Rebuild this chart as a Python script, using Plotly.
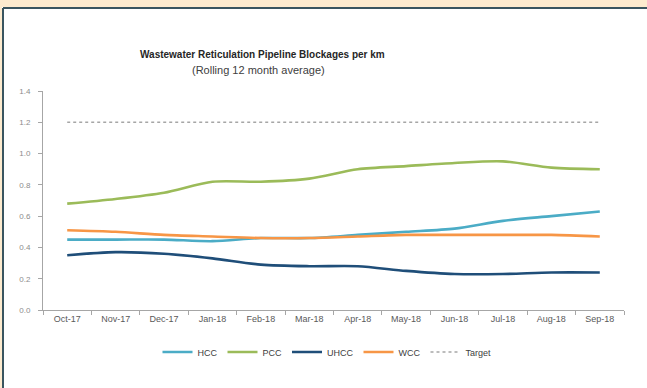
import plotly.graph_objects as go

months = ["Oct-17", "Nov-17", "Dec-17", "Jan-18", "Feb-18", "Mar-18",
          "Apr-18", "May-18", "Jun-18", "Jul-18", "Aug-18", "Sep-18"]
hcc = [0.45, 0.45, 0.45, 0.44, 0.46, 0.46, 0.48, 0.50, 0.52, 0.57, 0.60, 0.63]
pcc = [0.68, 0.71, 0.75, 0.82, 0.82, 0.84, 0.90, 0.92, 0.94, 0.95, 0.91, 0.90]
uhcc = [0.35, 0.37, 0.36, 0.33, 0.29, 0.28, 0.28, 0.25, 0.23, 0.23, 0.24, 0.24]
wcc = [0.51, 0.50, 0.48, 0.47, 0.46, 0.46, 0.47, 0.48, 0.48, 0.48, 0.48, 0.47]
target = [1.2] * 12

W, H = 647, 388
L, R, T, B = 43, 23, 91, 78
pw, ph = W - L - R, H - T - B

def px_x(px):
    return (px - L) / pw

def px_y(py):
    return (H - B - py) / ph

font = "Liberation Sans Narrow, Liberation Sans, Arial"

fig = go.Figure()
series = [("HCC", hcc, "#4BACC6", None, 2.6),
          ("PCC", pcc, "#9BBB59", None, 2.6),
          ("UHCC", uhcc, "#1F4E79", None, 2.6),
          ("WCC", wcc, "#F79646", None, 2.6),
          ("Target", target, "#A6A6A6", "dot", 1.5)]
for name, vals, col, dash, w in series:
    fig.add_trace(go.Scatter(
        x=months, y=vals, name=name, mode="lines",
        line=dict(color=col, width=w, dash=dash,
                  shape="linear" if dash else "spline", smoothing=0.8)))

shapes = [
    dict(type="rect", xref="paper", yref="paper", x0=px_x(-5), x1=px_x(W + 5),
         y0=px_y(7), y1=px_y(-5), fillcolor="#FDEBCF", line_width=0, layer="below"),
    dict(type="rect", xref="paper", yref="paper", x0=px_x(-5), x1=px_x(2),
         y0=px_y(H + 5), y1=px_y(-5), fillcolor="#FDEBCF", line_width=0, layer="below"),
    dict(type="line", xref="paper", yref="paper", x0=px_x(3), x1=px_x(W + 5),
         y0=px_y(8), y1=px_y(8), line=dict(color="#3A5560", width=2)),
    dict(type="line", xref="paper", yref="paper", x0=px_x(3), x1=px_x(3),
         y0=px_y(8), y1=px_y(H + 5), line=dict(color="#3A5560", width=2)),
]

annotations = [
    dict(text="<b>Wastewater Reticulation Pipeline Blockages per km</b>",
         xref="paper", yref="paper", x=px_x(262), y=px_y(47), showarrow=False,
         font=dict(family=font, size=10, color="#262626")),
    dict(text="(Rolling 12 month average)",
         xref="paper", yref="paper", x=px_x(258), y=px_y(62), showarrow=False,
         font=dict(family=font, size=11, color="#404040")),
]

fig.update_layout(
    width=W, height=H,
    margin=dict(l=L, r=R, t=T, b=B),
    paper_bgcolor="white", plot_bgcolor="white",
    font=dict(family=font, size=8, color="#595959"),
    shapes=shapes, annotations=annotations,
    showlegend=True,
    legend=dict(orientation="h", x=px_x(327), xanchor="center",
                y=px_y(352), yanchor="middle",
                font=dict(size=9, color="#404040"), itemwidth=30,
                bgcolor="rgba(0,0,0,0)"),
    xaxis=dict(type="category", range=[-0.5, 11.5], showgrid=False,
               showline=True, linecolor="#A6A6A6", linewidth=1,
               ticks="outside", tickson="boundaries", ticklen=4,
               tickcolor="#A6A6A6", tickfont=dict(size=9, color="#595959")),
    yaxis=dict(range=[0, 1.4], dtick=0.2, tickformat=".1f", showgrid=False,
               zeroline=False, showline=True, linecolor="#A6A6A6", linewidth=1,
               ticks="outside", ticklen=4, tickcolor="#A6A6A6",
               ticklabelstandoff=6,
               tickfont=dict(size=8, color="#8C8C8C")),
)

fig.write_html("out.html")
